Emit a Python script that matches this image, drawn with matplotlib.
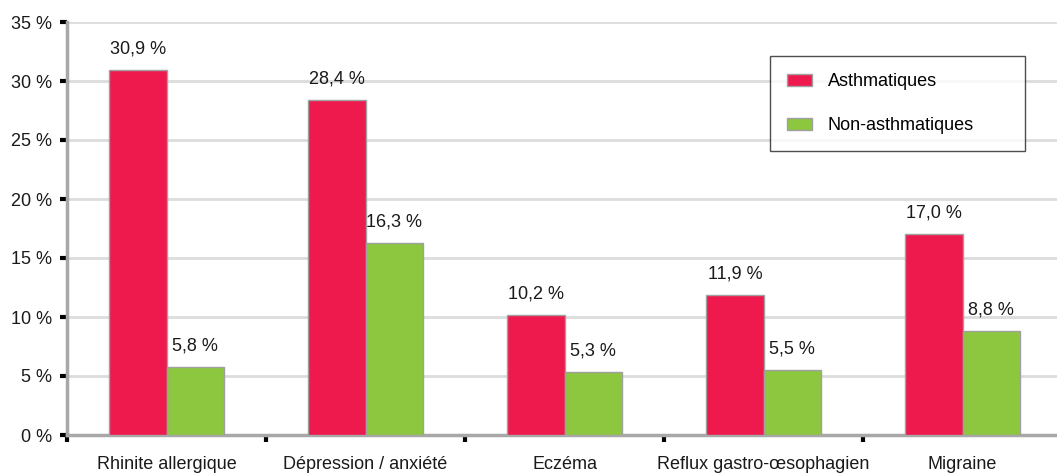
import matplotlib
matplotlib.use("Agg")
import matplotlib.pyplot as plt
import numpy as np

plt.rcParams['font.family'] = ['Liberation Sans', 'DejaVu Sans']

categories = ["Rhinite allergique", "Dépression / anxiété", "Eczéma",
              "Reflux gastro-œsophagien", "Migraine"]
asthmatiques = [30.9, 28.4, 10.2, 11.9, 17.0]
non_asthmatiques = [5.8, 16.3, 5.3, 5.5, 8.8]
series_names = ["Asthmatiques", "Non-asthmatiques"]
yticks = [0, 5, 10, 15, 20, 25, 30, 35]

red = "#EE1A4E"
green = "#8DC63F"
FS = 13

W, H = 1057, 476
fig = plt.figure(figsize=(W / 100, H / 100), dpi=100)
ax = fig.add_axes([67 / W, (H - 435) / H, (W - 67) / W, (435 - 22) / H])

x = np.arange(len(categories))
bw = 0.287
b1 = ax.bar(x - bw / 2, asthmatiques, bw, color=red, edgecolor="#a0a0a0",
            linewidth=1, label=series_names[0], zorder=3)
b2 = ax.bar(x + bw / 2, non_asthmatiques, bw, color=green, edgecolor="#a0a0a0",
            linewidth=1, label=series_names[1], zorder=3)

def fmt(v):
    return f"{v:.1f}".replace(".", ",") + " %"

for bars, vals in ((b1, asthmatiques), (b2, non_asthmatiques)):
    for rect, v in zip(bars, vals):
        ax.annotate(fmt(v), (rect.get_x() + rect.get_width() / 2, v),
                    xytext=(0, 9), textcoords="offset points",
                    ha="center", va="bottom", fontsize=FS, color="#1a1a1a")

ax.set_ylim(0, 35)
ax.set_xlim(-0.5, 4.5 - 5 / 199)
ax.set_yticks(yticks)
ax.set_yticklabels([f"{t} %" for t in yticks], fontsize=FS, color="#1a1a1a")
ax.yaxis.grid(True, color="#dcdcdc", linewidth=2, zorder=0)
ax.set_axisbelow(True)

# Category labels centred, boundary ticks between groups
ax.set_xticks(x)
ax.set_xticklabels(categories, fontsize=FS, color="#1a1a1a")
ax.tick_params(axis="x", which="major", length=0, pad=15)
ax.set_xticks(np.arange(len(categories)) - 0.5, minor=True)
ax.tick_params(axis="x", which="minor", length=5, width=3, color="black")
ax.tick_params(axis="y", length=5, width=3, color="black", pad=6)

for s in ("top", "right"):
    ax.spines[s].set_visible(False)
for s in ("left", "bottom"):
    ax.spines[s].set_color("#a8a8a8")
    ax.spines[s].set_linewidth(2.5)

# Legend box placed in axes coordinates, stretched to a fixed width
x0 = (770 - 67) / (W - 67)
y1 = (435 - 56) / 413
wd = (1025 - 770) / (W - 67)
leg = ax.legend(loc="upper left", bbox_to_anchor=(x0, y1 - 0.3, wd, 0.3),
                mode="expand", fontsize=FS, frameon=True, fancybox=False,
                edgecolor="#222222", borderpad=0.95, labelspacing=1.5,
                handlelength=1.35, handleheight=0.7, handletextpad=0.9,
                borderaxespad=0)
leg.get_frame().set_linewidth(1)
for h in leg.legend_handles:
    h.set_edgecolor("#a0a0a0")

fig.savefig("out.png", dpi=100)
